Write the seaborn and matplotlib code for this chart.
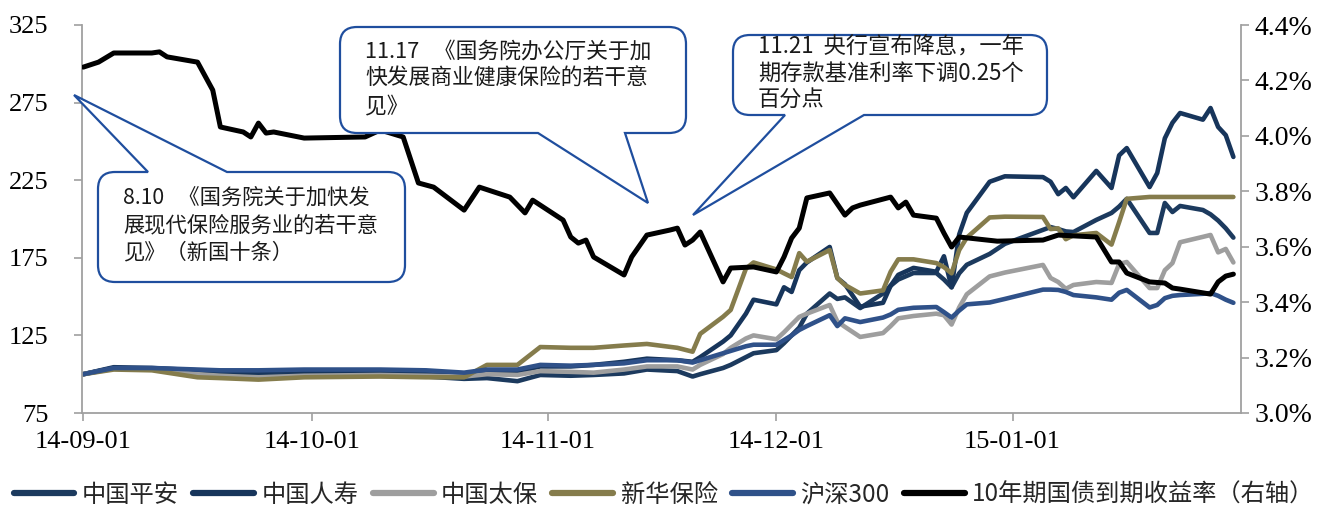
import numpy as np
import pandas as pd
import matplotlib
matplotlib.use("Agg")
import matplotlib.pyplot as plt
import matplotlib.dates as mdates
from matplotlib.path import Path
from matplotlib.patches import PathPatch
from matplotlib.transforms import Affine2D
from matplotlib.lines import Line2D
import seaborn as sns

# ---------------- data ----------------
dates = ["2014-09-01", "2014-09-05", "2014-09-10", "2014-09-16", "2014-09-19", "2014-09-24",
         "2014-09-30", "2014-10-10", "2014-10-16", "2014-10-21", "2014-10-24", "2014-10-28",
         "2014-10-31", "2014-11-04", "2014-11-07", "2014-11-11", "2014-11-14", "2014-11-18",
         "2014-11-20", "2014-11-21", "2014-11-24", "2014-11-25", "2014-11-27", "2014-11-28",
         "2014-12-01", "2014-12-02", "2014-12-03", "2014-12-04", "2014-12-05", "2014-12-08",
         "2014-12-09", "2014-12-10", "2014-12-12", "2014-12-15", "2014-12-16", "2014-12-17",
         "2014-12-19", "2014-12-22", "2014-12-23", "2014-12-24", "2014-12-25", "2014-12-26",
         "2014-12-29", "2014-12-31", "2015-01-05", "2015-01-06", "2015-01-07", "2015-01-08",
         "2015-01-09", "2015-01-12", "2015-01-14", "2015-01-15", "2015-01-16", "2015-01-19",
         "2015-01-20", "2015-01-21", "2015-01-22", "2015-01-23", "2015-01-26", "2015-01-27",
         "2015-01-28", "2015-01-29", "2015-01-30"]

pingan = [100, 104, 103.5, 101, 100, 99, 99.5, 99, 98.5, 97, 97.5, 95.5,
          99.5, 99, 99.5, 100.5, 103, 102, 98.5, 100, 104, 106, 111, 113.5,
          115.5, 120, 125, 130, 139, 152, 148.5, 149.5, 142.6, 152, 157, 161,
          165.2, 165.2, 161, 156, 165, 170.5, 177.5, 184, 193, 194.8, 193.5, 192,
          191.6, 199.4, 203.9, 208, 213, 191, 191, 210.3, 204.5, 208.4, 205.8, 203,
          199, 194, 188]

renshou = [100, 104.5, 104, 102.5, 102, 101.5, 102, 102, 101, 100, 102, 101.5,
           105, 105, 106, 108, 110, 109, 108, 111, 121, 125, 139, 148,
           145, 156, 153, 167, 172, 182, 162, 158, 143.5, 146, 157, 164,
           168.5, 166, 176, 156, 190, 204, 224, 227.5, 227, 224, 216, 220,
           214, 231, 220, 241, 245.7, 220.6, 229.6, 252, 262, 268.3, 264, 271.5,
           259.3, 254, 240]

taibao = [100, 103.5, 103, 100, 99, 98, 99, 99.5, 99, 98.5, 100, 99.5,
          102, 101.5, 101, 103, 105, 105, 103, 106, 113, 117, 123, 125,
          122.5, 127, 132, 136.9, 139, 144.6, 134, 130.5, 124, 126.5, 131, 136,
          137.5, 139, 138, 132, 143, 151.5, 163, 165.5, 170.4, 162, 159.4, 155,
          157.5, 159.4, 158.8, 171, 172.3, 155.5, 155.5, 167, 171.6, 185, 188.5, 189.7,
          178.5, 180.7, 172]

xinhua = [100, 103, 102.5, 98, 97.5, 96.5, 98, 98.5, 98, 98, 106, 106,
          117.5, 117, 117, 118.5, 119.5, 117, 114.5, 126, 137, 141.4, 168, 172,
          167.5, 165, 162.6, 178, 172.5, 180, 162, 157.5, 152, 154, 166, 174,
          174, 171.6, 169, 165, 180, 188, 201, 201.5, 201.3, 193.5, 194, 187,
          189.5, 191, 183.5, 198, 213, 214.2, 214.2, 214.2, 214.2, 214.2, 214.2, 214.2,
          214.2, 214.2, 214.2]

hs300 = [100, 104, 104, 103, 102.5, 102.5, 103, 103, 102.5, 101, 103, 103,
         106, 105.5, 106, 107, 109, 109, 107.5, 109, 113.5, 115, 118, 119,
         119, 122, 125, 128.5, 131, 138, 131, 136, 133.6, 136.5, 138.5, 141.5,
         142.8, 143.3, 140, 136.5, 141, 145, 146.2, 148.5, 154.5, 154.5, 154.3, 153,
         151, 149.5, 148, 152.5, 154.3, 143, 144.6, 149, 150.5, 151, 151.8, 152.3,
         150.5, 148, 146]

yield_dates = ["2014-09-01", "2014-09-03", "2014-09-05", "2014-09-10", "2014-09-11", "2014-09-12",
               "2014-09-16", "2014-09-18", "2014-09-19", "2014-09-22", "2014-09-23", "2014-09-24",
               "2014-09-25", "2014-09-26", "2014-09-30", "2014-10-08", "2014-10-10", "2014-10-13",
               "2014-10-15", "2014-10-17", "2014-10-21", "2014-10-23", "2014-10-27", "2014-10-29",
               "2014-10-30", "2014-11-03", "2014-11-04", "2014-11-05", "2014-11-06", "2014-11-07",
               "2014-11-11", "2014-11-12", "2014-11-14", "2014-11-17", "2014-11-18", "2014-11-19",
               "2014-11-20", "2014-11-21", "2014-11-24", "2014-11-25", "2014-11-28", "2014-12-01",
               "2014-12-02", "2014-12-03", "2014-12-04", "2014-12-05", "2014-12-08", "2014-12-10",
               "2014-12-11", "2014-12-12", "2014-12-16", "2014-12-17", "2014-12-18", "2014-12-19",
               "2014-12-22", "2014-12-23", "2014-12-24", "2014-12-25", "2014-12-30", "2015-01-05",
               "2015-01-07", "2015-01-12", "2015-01-14", "2015-01-15", "2015-01-16", "2015-01-19",
               "2015-01-21", "2015-01-22", "2015-01-23", "2015-01-27", "2015-01-28", "2015-01-29",
               "2015-01-30"]
yield_values = [4.248, 4.266, 4.299, 4.299, 4.303, 4.285,
                4.266, 4.165, 4.032, 4.014, 3.996, 4.046,
                4.010, 4.014, 3.992, 3.996, 4.021, 3.996,
                3.830, 3.815, 3.732, 3.815, 3.779, 3.722,
                3.768, 3.696, 3.635, 3.613, 3.624, 3.563,
                3.498, 3.563, 3.642, 3.660, 3.667, 3.606,
                3.624, 3.653, 3.473, 3.523, 3.527, 3.509,
                3.563, 3.631, 3.667, 3.776, 3.794, 3.714,
                3.740, 3.750, 3.779, 3.740, 3.761, 3.714,
                3.703, 3.649, 3.599, 3.635, 3.620, 3.624,
                3.642, 3.635, 3.545, 3.545, 3.505, 3.473,
                3.469, 3.451, 3.447, 3.429, 3.473, 3.494,
                3.501]

series_names = ["中国平安", "中国人寿", "中国太保", "新华保险", "沪深300"]
yield_name = "10年期国债到期收益率（右轴）"
left_ticks = [75, 125, 175, 225, 275, 325]
right_ticks = [3.0, 3.2, 3.4, 3.6, 3.8, 4.0, 4.2, 4.4]

notes = [
    ["8.10   《国务院关于加快发", "展现代保险服务业的若干意", "见》（新国十条）"],
    ["11.17   《国务院办公厅关于加", "快发展商业健康保险的若干意", "见》"],
    ["11.21  央行宣布降息，一年", "期存款基准利率下调0.25个", "百分点"],
]

# ---------------- styling ----------------
colors = {"中国平安": "#1C3A5E", "中国人寿": "#17355B", "中国太保": "#9E9E9E",
          "新华保险": "#857C4C", "沪深300": "#2F5189"}
axis_grey = "#A0A0A0"
box_blue = "#1F4E9E"

sns.set_theme(style="ticks")
plt.rcParams['font.family'] = ['Noto Sans CJK SC', 'DejaVu Sans']
serif = ['Liberation Serif', 'DejaVu Serif']

W, H = 1320, 509
fig = plt.figure(figsize=(W / 100, H / 100), dpi=100)
ax = fig.add_axes([82 / W, 1 - 413 / H, (1241 - 82) / W, (413 - 25) / H])
ax2 = ax.twinx()

df = pd.DataFrame({"date": pd.to_datetime(dates), "中国平安": pingan, "中国人寿": renshou,
                   "中国太保": taibao, "新华保险": xinhua, "沪深300": hs300})
long = df.melt(id_vars="date", var_name="name", value_name="value")
sns.lineplot(data=long, x="date", y="value", hue="name", hue_order=series_names,
             palette=colors, linewidth=3.3, ax=ax, legend=False, estimator=None, sort=False)

ydf = pd.DataFrame({"date": pd.to_datetime(yield_dates), "y": yield_values})
sns.lineplot(data=ydf, x="date", y="y", color="black", linewidth=3.6, ax=ax2,
             estimator=None, sort=False)

for a in (ax, ax2):
    a.set_xlim(pd.Timestamp("2014-08-31 20:00"), pd.Timestamp("2015-01-31"))
    a.set_xlabel("")
    a.set_ylabel("")

ax.set_ylim(75, 325)
ax.set_yticks(left_ticks)
ax.set_yticklabels([str(t) for t in left_ticks])
ax2.set_ylim(3.0, 4.4)
ax2.set_yticks(right_ticks)
ax2.set_yticklabels([f"{t:.1f}%" for t in right_ticks])

ax.xaxis.set_major_locator(mdates.MonthLocator())
ax.xaxis.set_major_formatter(mdates.DateFormatter("%y-%m-%d"))

for s in ["top", "right"]:
    ax.spines[s].set_visible(False)
for s in ["top", "left", "bottom"]:
    ax2.spines[s].set_visible(False)
for sp in [ax.spines["left"], ax.spines["bottom"], ax2.spines["right"]]:
    sp.set_color(axis_grey)
    sp.set_linewidth(1.3)

ax.tick_params(axis="y", left=True, direction="out", length=6, width=1.2, color=axis_grey,
               pad=18, labelsize=19, labelcolor="black")
ax.tick_params(axis="x", bottom=True, direction="out", length=6, width=1.2, color=axis_grey,
               pad=7, labelsize=19, labelcolor="black")
ax2.tick_params(axis="y", right=True, direction="out", length=6, width=1.2, color=axis_grey,
                pad=4, labelsize=20, labelcolor="black")
for lab in ax.get_yticklabels() + ax.get_xticklabels() + ax2.get_yticklabels():
    lab.set_fontfamily(serif)
ax2.tick_params(axis="x", bottom=False, labelbottom=False)

# ---------------- callouts ----------------
pix = Affine2D().scale(1 / W, -1 / H).translate(0, 1) + fig.transFigure


def callout(x0, y0, x1, y1, r, side, wl, wr, apex):
    M, L, Q, C = Path.MOVETO, Path.LINETO, Path.CURVE3, Path.CLOSEPOLY
    v, c = [], []
    v += [(x0 + r, y0)]; c += [M]
    if side == "top":
        v += [(wl, y0), apex, (wr, y0)]; c += [L, L, L]
    v += [(x1 - r, y0), (x1, y0), (x1, y0 + r)]; c += [L, Q, Q]
    v += [(x1, y1 - r), (x1, y1), (x1 - r, y1)]; c += [L, Q, Q]
    if side == "bottom":
        v += [(wr, y1), apex, (wl, y1)]; c += [L, L, L]
    v += [(x0 + r, y1), (x0, y1), (x0, y1 - r)]; c += [L, Q, Q]
    v += [(x0, y0 + r), (x0, y0), (x0 + r, y0)]; c += [L, Q, Q]
    v += [(x0 + r, y0)]; c += [C]
    patch = PathPatch(Path(v, c), transform=pix, facecolor="white", edgecolor=box_blue,
                      linewidth=1.6, zorder=10)
    fig.add_artist(patch)


callout(98, 172, 405, 282, 17, "top", 148, 227, (74, 95))
callout(340, 27, 686, 133, 17, "bottom", 538, 625, (648, 203))
callout(733, 35, 1047, 115, 17, "bottom", 785, 864, (693, 215))

text_pos = [(123, [198, 225, 252]), (365, [52, 79, 106]), (758, [47, 73, 100])]
text_sizes = [15.3, 15.7, 16.0]
for (tx, ys), lines, fs in zip(text_pos, notes, text_sizes):
    for yy, line in zip(ys, lines):
        fig.text(tx, yy, line, transform=pix, ha="left", va="center", fontsize=fs,
                 color="#1A1A1A", zorder=11)

# ---------------- legend ----------------
handles = [Line2D([0], [0], color=colors[n], linewidth=4.5) for n in series_names]
handles.append(Line2D([0], [0], color="black", linewidth=4.5))
leg = fig.legend(handles, series_names + [yield_name], loc="center",
                 bbox_to_anchor=(664 / W, 1 - 495 / H), ncol=6, frameon=False, fontsize=17.5,
                 handlelength=2.5, handletextpad=0.3, columnspacing=0.6)

fig.savefig("out.png", dpi=100, facecolor="white")
